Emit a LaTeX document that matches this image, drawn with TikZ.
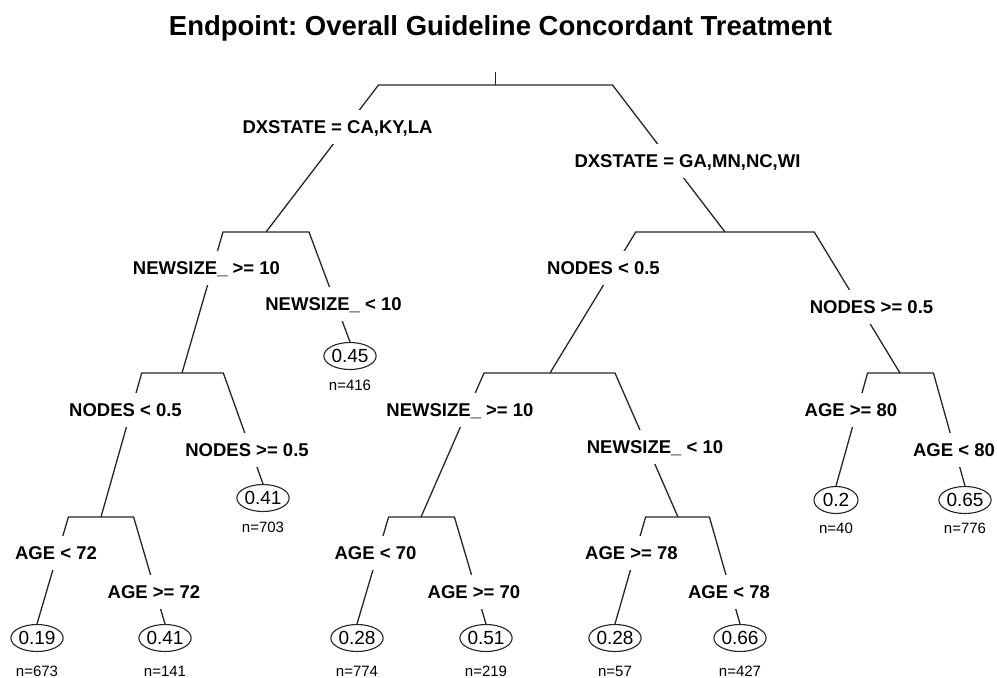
\documentclass[tikz,border=0pt]{standalone}
\usepackage{fontspec}
\setmainfont{Liberation Sans}
\usetikzlibrary{shapes.geometric}
\frenchspacing
\begin{document}
\begin{tikzpicture}[x=1pt,y=-1pt,
  branch/.style={draw=black!85, line width=1.3pt},
  split/.style={fill=white, font=\fontsize{18.5}{20}\selectfont\bfseries,
    text height=13.3pt, text depth=0pt, inner xsep=1pt, inner ysep=10pt, anchor=center},
  leaf/.style={ellipse, draw=black!85, line width=1.1pt, fill=white,
    font=\fontsize{19}{21}\selectfont, inner sep=0pt, minimum height=27pt, minimum width=#1},
  leaf/.default=52pt,
  count/.style={font=\fontsize{15}{17}\selectfont, inner sep=0pt},
  heading/.style={font=\fontsize{27.5}{30}\selectfont\bfseries, inner sep=0pt, anchor=base}
]
\useasboundingbox (0,0) rectangle (997,678);

% title
\node[heading] (title) at (500.5,35) {Endpoint: Overall Guideline Concordant Treatment};

% split points (centre of each horizontal bar)
\coordinate (top) at (495.5,72);
\coordinate (r)   at (495.5,85);
\coordinate (n2)  at (266,232);
\coordinate (n3)  at (725,232);
\coordinate (n4)  at (182,373);
\coordinate (n6)  at (550,373);
\coordinate (n7)  at (900,373);
\coordinate (n8)  at (101,517);
\coordinate (n12) at (421,517);
\coordinate (n13) at (678,517);

% ends of the horizontal bars
\coordinate (rL)   at (378.5,85);  \coordinate (rR)   at (612.5,85);
\coordinate (n2L)  at (223,232);   \coordinate (n2R)  at (309,232);
\coordinate (n3L)  at (635.75,232);\coordinate (n3R)  at (814.25,232);
\coordinate (n4L)  at (141.7,373); \coordinate (n4R)  at (223.3,373);
\coordinate (n6L)  at (484,373);   \coordinate (n6R)  at (615,373);
\coordinate (n7L)  at (867.6,373); \coordinate (n7R)  at (933.4,373);
\coordinate (n8L)  at (68.4,517);  \coordinate (n8R)  at (133.6,517);
\coordinate (n12L) at (388.6,517); \coordinate (n12R) at (454.4,517);
\coordinate (n13L) at (645.6,517); \coordinate (n13R) at (709.4,517);

% terminal nodes
\node[leaf] (l5)  at (350,356) {0.45};
\node[leaf] (l9)  at (263,498) {0.41};
\node[leaf=44pt] (l14) at (836,500) {0.2};
\node[leaf] (l15) at (965,500) {0.65};
\node[leaf] (l16) at (37,638)  {0.19};
\node[leaf] (l17) at (165,638) {0.41};
\node[leaf] (l24) at (357,638) {0.28};
\node[leaf] (l25) at (486,638) {0.51};
\node[leaf] (l26) at (615,638) {0.28};
\node[leaf] (l27) at (740,638) {0.66};

% observation counts
\node[count] (c5)  at (350,385) {n=416};
\node[count] (c9)  at (263,527) {n=703};
\node[count] (c14) at (836,528) {n=40};
\node[count] (c15) at (965,528) {n=776};
\node[count] (c16) at (37,671)  {n=673};
\node[count] (c17) at (165,671) {n=141};
\node[count] (c24) at (357,671) {n=774};
\node[count] (c25) at (486,671) {n=219};
\node[count] (c26) at (615,671) {n=57};
\node[count] (c27) at (740,671) {n=427};

% branches
\draw[branch] (top) -- (r);
\draw[branch] (n2) -- (rL) -- (rR) -- (n3);
\draw[branch] (n4) -- (n2L) -- (n2R) -- (l5.north);
\draw[branch] (n8) -- (n4L) -- (n4R) -- (l9.north);
\draw[branch] (l16.north) -- (n8L) -- (n8R) -- (l17.north);
\draw[branch] (n6) -- (n3L) -- (n3R) -- (n7);
\draw[branch] (n12) -- (n6L) -- (n6R) -- (n13);
\draw[branch] (l14.north) -- (n7L) -- (n7R) -- (l15.north);
\draw[branch] (l24.north) -- (n12L) -- (n12R) -- (l25.north);
\draw[branch] (l26.north) -- (n13L) -- (n13R) -- (l27.north);

% split labels
\node[split] (s2)  at (337.5,127) {DXSTATE = CA,KY,LA};
\node[split] (s3)  at (687.5,161) {DXSTATE = GA,MN,NC,WI};
\node[split] (s4)  at (206.5,268) {NEWSIZE\_ >= 10};
\node[split] (s5)  at (333.5,304) {NEWSIZE\_ < 10};
\node[split] (s8)  at (125.5,410) {NODES < 0.5};
\node[split] (s9)  at (247,450)   {NODES >= 0.5};
\node[split] (s16) at (56,553)    {AGE < 72};
\node[split] (s17) at (154,592)   {AGE >= 72};
\node[split] (s6)  at (603.5,268) {NODES < 0.5};
\node[split] (s7)  at (871.5,307) {NODES >= 0.5};
\node[split] (s12) at (460,410)   {NEWSIZE\_ >= 10};
\node[split] (s13) at (655,447)   {NEWSIZE\_ < 10};
\node[split] (s14) at (851,410)   {AGE >= 80};
\node[split] (s15) at (954,450)   {AGE < 80};
\node[split] (s24) at (375.5,553) {AGE < 70};
\node[split] (s25) at (474,592)   {AGE >= 70};
\node[split] (s26) at (631.5,553) {AGE >= 78};
\node[split] (s27) at (729,592)   {AGE < 78};
\end{tikzpicture}
\end{document}
